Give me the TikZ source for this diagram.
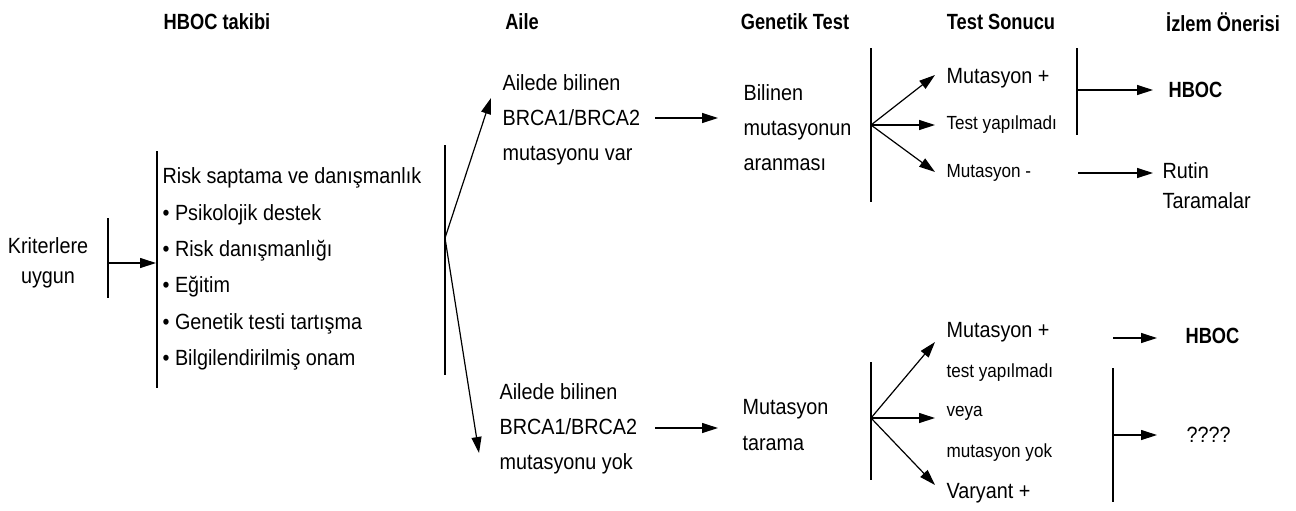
\documentclass[tikz,border=0pt]{standalone}
\usepackage{fontspec}
\setmainfont{Liberation Sans}[FakeStretch=0.9,BoldFeatures={FakeStretch=0.83}]
\usetikzlibrary{arrows.meta}

\begin{document}
\begin{tikzpicture}[x=0.5pt,y=-0.5pt,line width=0.6pt,
        >={Triangle[length=8pt,width=5pt]},
        txt/.style={anchor=west,inner sep=0pt,align=left,font=\fontsize{11}{17.5}\selectfont},
        sml/.style={anchor=west,inner sep=0pt,font=\fontsize{9.5}{11}\selectfont},
        head/.style={inner sep=0pt,font=\fontsize{11}{12}\selectfont\bfseries}]
    \useasboundingbox (0,0) rectangle (1296,510);

    % basliklar
    \node[head] (hTakip) at (217,22) {HBOC takibi};
    \node[head] (hAile) at (522,22) {Aile};
    \node[head] (hGen) at (795,22) {Genetik Test};
    \node[head] (hSonuc) at (1001,22) {Test Sonucu};
    \node[head] (hIzlem) at (1223,22) {İzlem Önerisi};

    % kriterler ve danismanlik
    \node[inner sep=0pt,align=center,font=\fontsize{11}{15}\selectfont] (krit) at (48,263) {Kriterlere\\uygun};
    \coordinate (kTop) at (108,218);
    \coordinate (kBot) at (108,298);
    \coordinate (kMid) at (108,263);
    \coordinate (rTop) at (157,151);
    \coordinate (rBot) at (157,388);
    \coordinate (rMid) at (156,263);
    \draw (kTop) -- (kBot);
    \draw (rTop) -- (rBot);
    \draw[->] (kMid) -- (rMid);
    \node[txt,font=\fontsize{11}{18.2}\selectfont] (risk) at (162,269) {Risk saptama ve danışmanlık\\
        \textbullet\ Psikolojik destek\\
        \textbullet\ Risk danışmanlığı\\
        \textbullet\ Eğitim\\
        \textbullet\ Genetik testi tartışma\\
        \textbullet\ Bilgilendirilmiş onam};

    % aile
    \coordinate (aTop) at (445,145);
    \coordinate (aBot) at (445,375);
    \coordinate (aMid) at (445,238);
    \coordinate (aUp) at (491,98);
    \coordinate (aDown) at (479,453);
    \draw (aTop) -- (aBot);
    \draw[->] (aMid) -- (aUp);
    \draw[->] (aMid) -- (aDown);
    \node[txt] (aileVar) at (502,120) {Ailede bilinen\\BRCA1/BRCA2\\mutasyonu var};
    \node[txt] (aileYok) at (499,429) {Ailede bilinen\\BRCA1/BRCA2\\mutasyonu yok};

    % genetik test
    \coordinate (vS) at (655,118);
    \coordinate (vE) at (718,118);
    \coordinate (yS) at (655,428);
    \coordinate (yE) at (718,428);
    \draw[->] (vS) -- (vE);
    \draw[->] (yS) -- (yE);
    \node[txt] (bilinen) at (743,128) {Bilinen\\mutasyonun\\aranması};
    \node[txt,font=\fontsize{11}{18}\selectfont] (tarama) at (742,425) {Mutasyon\\tarama};

    % test sonucu, ust
    \coordinate (g1Top) at (871,48);
    \coordinate (g1Bot) at (871,202);
    \coordinate (g1Mid) at (871,125);
    \coordinate (s1) at (935,75);
    \coordinate (s2) at (935,125);
    \coordinate (s3) at (935,172);
    \draw (g1Top) -- (g1Bot);
    \draw[->] (g1Mid) -- (s1);
    \draw[->] (g1Mid) -- (s2);
    \draw[->] (g1Mid) -- (s3);
    \node[txt] (mutArti) at (946,78) {Mutasyon +};
    \node[sml] (testYok) at (946,125) {Test yapılmadı};
    \node[sml] (mutEksi) at (946,173) {Mutasyon -};

    % izlem, ust
    \coordinate (t1Top) at (1077,48);
    \coordinate (t1Bot) at (1077,135);
    \coordinate (t1Mid) at (1077,90);
    \coordinate (i1) at (1153,90);
    \coordinate (mS) at (1078,173);
    \coordinate (mE) at (1153,173);
    \draw (t1Top) -- (t1Bot);
    \draw[->] (t1Mid) -- (i1);
    \draw[->] (mS) -- (mE);
    \node[txt,font=\fontsize{11}{12}\selectfont\bfseries] (hboc1) at (1168,90) {HBOC};
    \node[txt,font=\fontsize{11}{15}\selectfont] (rutin) at (1162,186) {Rutin\\Taramalar};

    % test sonucu, alt
    \coordinate (g2Top) at (871,362);
    \coordinate (g2Bot) at (871,480);
    \coordinate (g2Mid) at (871,418);
    \coordinate (u1) at (935,342);
    \coordinate (u2) at (935,418);
    \coordinate (u3) at (935,485);
    \draw (g2Top) -- (g2Bot);
    \draw[->] (g2Mid) -- (u1);
    \draw[->] (g2Mid) -- (u2);
    \draw[->] (g2Mid) -- (u3);
    \node[txt] (mutArti2) at (946,332) {Mutasyon +};
    \node[sml] (testYok2) at (946,373) {test yapılmadı};
    \node[sml] (veya) at (946,413) {veya};
    \node[sml] (mutYok) at (946,453) {mutasyon yok};
    \node[txt] (varyant) at (946,493) {Varyant +};

    % izlem, alt
    \coordinate (hS) at (1113,338);
    \coordinate (hE) at (1157,338);
    \coordinate (t2Top) at (1113,368);
    \coordinate (t2Bot) at (1113,502);
    \coordinate (t2Mid) at (1113,435);
    \coordinate (i2) at (1157,435);
    \draw[->] (hS) -- (hE);
    \draw (t2Top) -- (t2Bot);
    \draw[->] (t2Mid) -- (i2);
    \node[txt,font=\fontsize{11}{12}\selectfont\bfseries] (hboc2) at (1185,336) {HBOC};
    \node[txt] (soru) at (1186,435) {????};
\end{tikzpicture}
\end{document}
